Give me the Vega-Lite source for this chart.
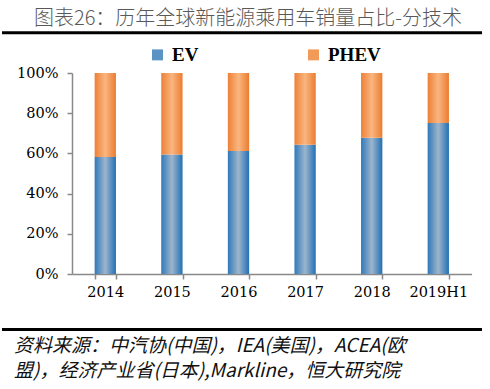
{
  "$schema": "https://vega.github.io/schema/vega-lite/v6.json",
  "width": 480,
  "height": 201,
  "padding": {"left": 0, "top": 8, "right": 0, "bottom": 0},
  "background": "white",
  "config": {"view": {"stroke": null}},
  "title": {
    "text": ["资料来源：中汽协(中国)，IEA(美国)，ACEA(欧", "盟)，经济产业省(日本),Markline，恒大研究院"],
    "orient": "bottom",
    "anchor": "start",
    "frame": "group",
    "dx": 12,
    "offset": 6,
    "font": "Noto Sans CJK SC",
    "fontSize": 19,
    "fontStyle": "italic",
    "fontWeight": "normal",
    "color": "#111111",
    "lineHeight": 25,
    "baseline": "top"
  },
  "layer": [
    {
      "data": {
        "values": [
          {"year": "2014", "type": "EV", "share": 0.582},
          {"year": "2014", "type": "PHEV", "share": 0.418},
          {"year": "2015", "type": "EV", "share": 0.594},
          {"year": "2015", "type": "PHEV", "share": 0.406},
          {"year": "2016", "type": "EV", "share": 0.612},
          {"year": "2016", "type": "PHEV", "share": 0.388},
          {"year": "2017", "type": "EV", "share": 0.643},
          {"year": "2017", "type": "PHEV", "share": 0.357},
          {"year": "2018", "type": "EV", "share": 0.678},
          {"year": "2018", "type": "PHEV", "share": 0.322},
          {"year": "2019H1", "type": "EV", "share": 0.751},
          {"year": "2019H1", "type": "PHEV", "share": 0.249}
        ]
      },
      "mark": {"type": "bar", "strokeWidth": 0},
      "encoding": {
        "x": {
          "field": "year",
          "type": "nominal",
          "sort": null,
          "scale": {"range": [70, 469.6], "paddingInner": 0.68, "paddingOuter": 0.34},
          "axis": {
            "title": null,
            "labelAngle": 0,
            "labelFont": "DejaVu Serif",
            "labelFontSize": 14.5,
            "labelColor": "#000000",
            "labelPadding": 6,
            "tickBand": "extent",
            "tickSize": 5,
            "tickColor": "#898989",
            "tickWidth": 1.5,
            "domainColor": "#898989",
            "domainWidth": 1.5,
            "grid": false
          }
        },
        "y": {
          "field": "share",
          "type": "quantitative",
          "stack": "zero",
          "scale": {"domain": [0, 1], "nice": false},
          "axis": {
            "title": null,
            "offset": -70,
            "values": [0, 0.2, 0.4, 0.6, 0.8, 1],
            "format": ".0%",
            "labelFont": "DejaVu Serif",
            "labelFontSize": 14.5,
            "labelColor": "#000000",
            "labelPadding": 9,
            "tickSize": 5,
            "tickColor": "#898989",
            "tickWidth": 1.5,
            "domainColor": "#898989",
            "domainWidth": 1.5,
            "grid": false
          }
        },
        "stroke": {
          "field": "type",
          "type": "nominal",
          "scale": {"domain": ["EV", "PHEV"], "range": ["#5B93C4", "#F29A58"]},
          "legend": {
            "title": null,
            "orient": "none",
            "legendX": 146,
            "legendY": -28,
            "direction": "horizontal",
            "symbolType": "square",
            "symbolSize": 30,
            "symbolStrokeWidth": 5.5,
            "labelFont": "Liberation Serif",
            "labelFontWeight": "bold",
            "labelFontSize": 19,
            "labelColor": "#000000",
            "labelOffset": 5,
            "columnPadding": 100
          }
        },
        "fill": {
          "condition": {
            "test": "datum.type === 'EV'",
            "value": {"gradient": "linear", "x1": 0, "y1": 0, "x2": 1, "y2": 0, "stops": [
              {"offset": 0, "color": "#3079BA"},
              {"offset": 0.5, "color": "#9DB5CC"},
              {"offset": 1, "color": "#2270B5"}
            ]}
          },
          "value": {"gradient": "linear", "x1": 0, "y1": 0, "x2": 1, "y2": 0, "stops": [
            {"offset": 0, "color": "#EE8036"},
            {"offset": 0.5, "color": "#F9B680"},
            {"offset": 1, "color": "#EC7C30"}
          ]}
        },
        "order": {"field": "type", "sort": "ascending"}
      }
    },
    {
      "data": {"values": [{"line": "header"}]},
      "mark": {"type": "rule", "color": "#000000", "strokeWidth": 3},
      "encoding": {
        "y": {"datum": 1.2, "type": "quantitative"}
      }
    },
    {
      "data": {"values": [{"line": "footer"}]},
      "mark": {"type": "rule", "color": "#000000", "strokeWidth": 3},
      "encoding": {
        "y": {"datum": -0.276, "type": "quantitative"}
      }
    },
    {
      "data": {"values": [{"label": "图表26：历年全球新能源乘用车销量占比-分技术"}]},
      "mark": {"type": "text", "font": "Noto Sans CJK SC", "fontSize": 20, "fontWeight": 300, "color": "#595959", "baseline": "middle", "align": "center", "dx": 6},
      "encoding": {
        "y": {"datum": 1.2687, "type": "quantitative"},
        "text": {"field": "label"}
      }
    }
  ]
}
